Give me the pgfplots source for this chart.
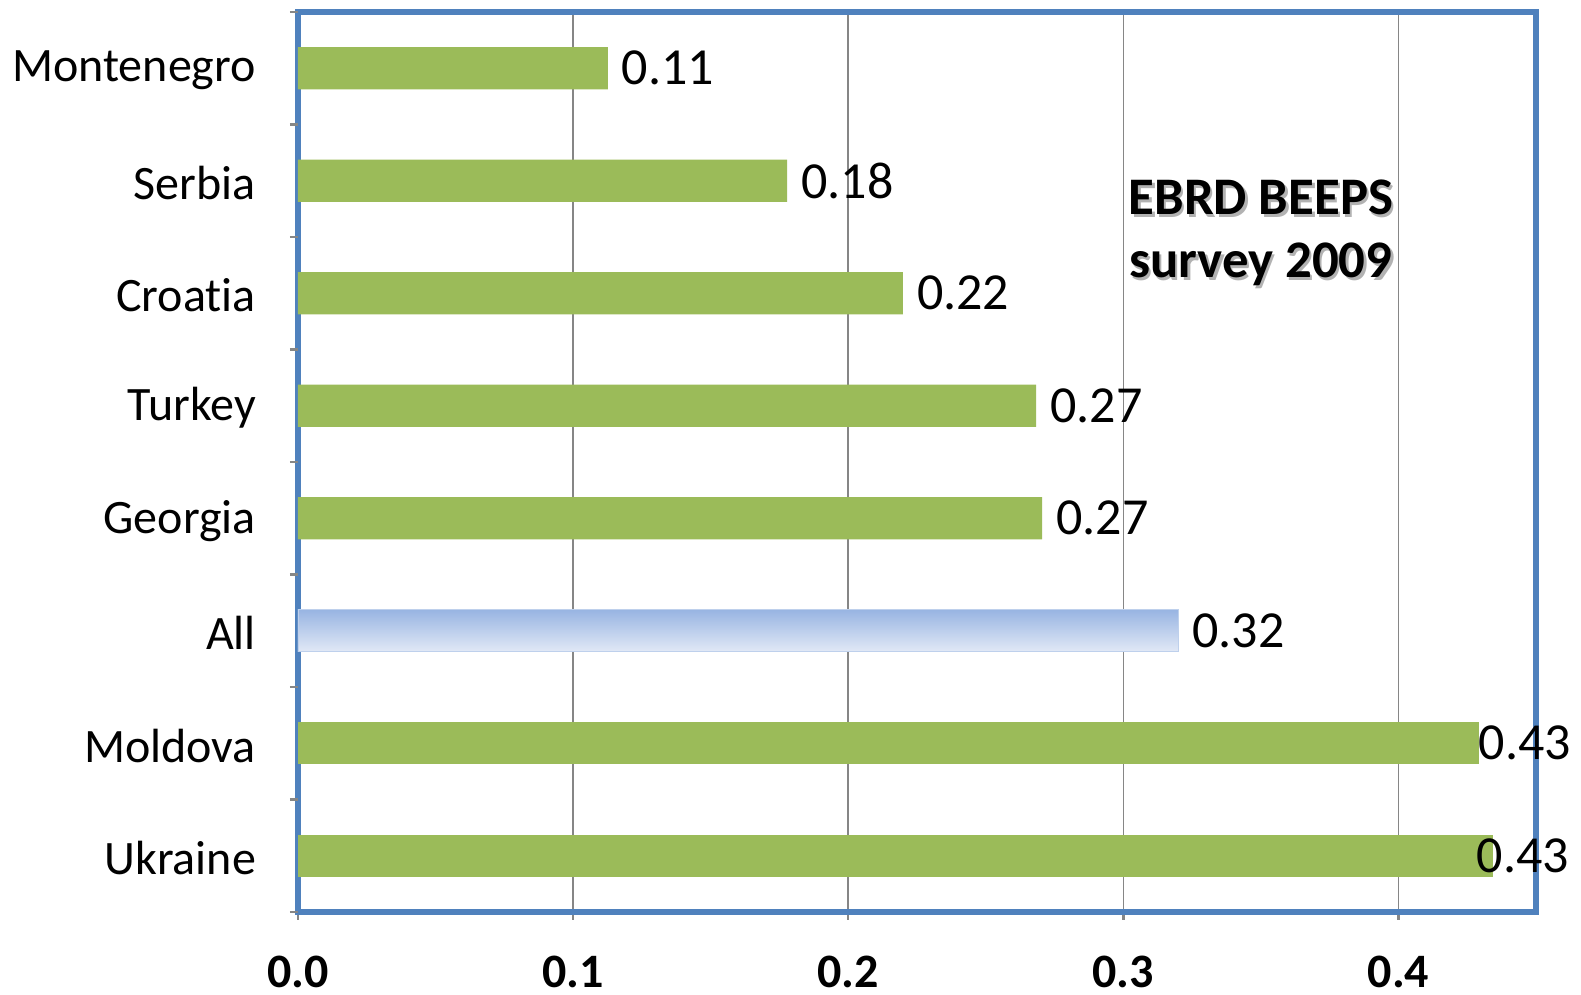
\documentclass[border=0pt]{standalone}
\usepackage{pgfplots}
\pgfplotsset{compat=1.18}
\usepackage{fontspec}
\setmainfont{Carlito}[Ligatures=NoCommon]

\definecolor{barGreen}{RGB}{155,187,89}
\definecolor{frameBlue}{RGB}{79,129,189}
\definecolor{gridGray}{RGB}{134,134,134}
\definecolor{allTop}{RGB}{152,180,226}
\definecolor{allBottom}{RGB}{226,233,246}
\definecolor{allEdge}{RGB}{190,208,236}

\begin{document}
\begin{tikzpicture}
\begin{axis}[
  scale only axis,
  width=309.5pt, height=225pt,
  xmin=0, xmax=0.45,
  ymin=-0.5, ymax=7.5,
  /pgf/number format/assume math mode=true,
  axis line style={draw=frameBlue, line width=1.4pt},
  xmajorgrids,
  grid style={draw=gridGray, line width=0.4pt},
  tick align=outside,
  xtick pos=bottom, ytick pos=left,
  major tick length=2pt,
  xtick={0,0.1,0.2,0.3,0.4},
  xtick style={draw=gridGray, line width=0.6pt},
  xticklabel={\pgfmathprintnumber[fixed,fixed zerofill,precision=1]{\tick}},
  xticklabel style={font=\fontsize{12}{14}\selectfont\bfseries, yshift=-5.5pt},
  ytick={0,...,7},
  yticklabels={Ukraine,Moldova,All,Georgia,Turkey,Croatia,Serbia,Montenegro},
  ytick style={draw=none},
  yticklabel style={font=\fontsize{12}{14}\selectfont, xshift=-5pt, yshift=-0.6pt},
  extra y ticks={-0.5,0.5,1.5,2.5,3.5,4.5,5.5,6.5,7.5},
  extra y tick labels={},
  extra y tick style={ytick style={draw=gridGray, line width=0.6pt}},
  bar width=0.376,
  point meta=x,
  nodes near coords={\pgfmathprintnumber[fixed,fixed zerofill,precision=2]{\pgfplotspointmeta}},
  nodes near coords style={anchor=west, font=\fontsize{13}{15}\selectfont},
]
% countries below the overall figure
\addplot[xbar, bar shift=0pt, fill=barGreen, draw=none]
  coordinates {(0.2705,3) (0.2683,4) (0.2199,5) (0.1778,6) (0.1126,7)};
% overall figure
\addplot[xbar, bar shift=0pt, draw=allEdge, line width=0.3pt, top color=allTop, bottom color=allBottom]
  coordinates {(0.3200,2)};
% the two highest, labels kept inside the frame
\addplot[xbar, bar shift=0pt, fill=barGreen, draw=none, nodes near coords style={xshift=-3.5pt}]
  coordinates {(0.4291,1)};
\addplot[xbar, bar shift=0pt, fill=barGreen, draw=none, nodes near coords style={xshift=-7.5pt}]
  coordinates {(0.4342,0)};

\node[align=center, text=black!30, font=\fontsize{13.2}{15.75}\selectfont\bfseries, xshift=0.6pt, yshift=-0.6pt]
  at (axis cs:0.35,5.535) {EBRD BEEPS\\survey 2009};
\node[align=center, text=black, font=\fontsize{13.2}{15.75}\selectfont\bfseries]
  at (axis cs:0.35,5.535) {EBRD BEEPS\\survey 2009};

\coordinate (bl) at (rel axis cs:0,0);
\coordinate (tr) at (rel axis cs:1,1);
\end{axis}
\pgfresetboundingbox
\path ([shift={(-74.5pt,-20.5pt)}]bl) rectangle ([shift={(11.25pt,3pt)}]tr);
\end{tikzpicture}
\end{document}
